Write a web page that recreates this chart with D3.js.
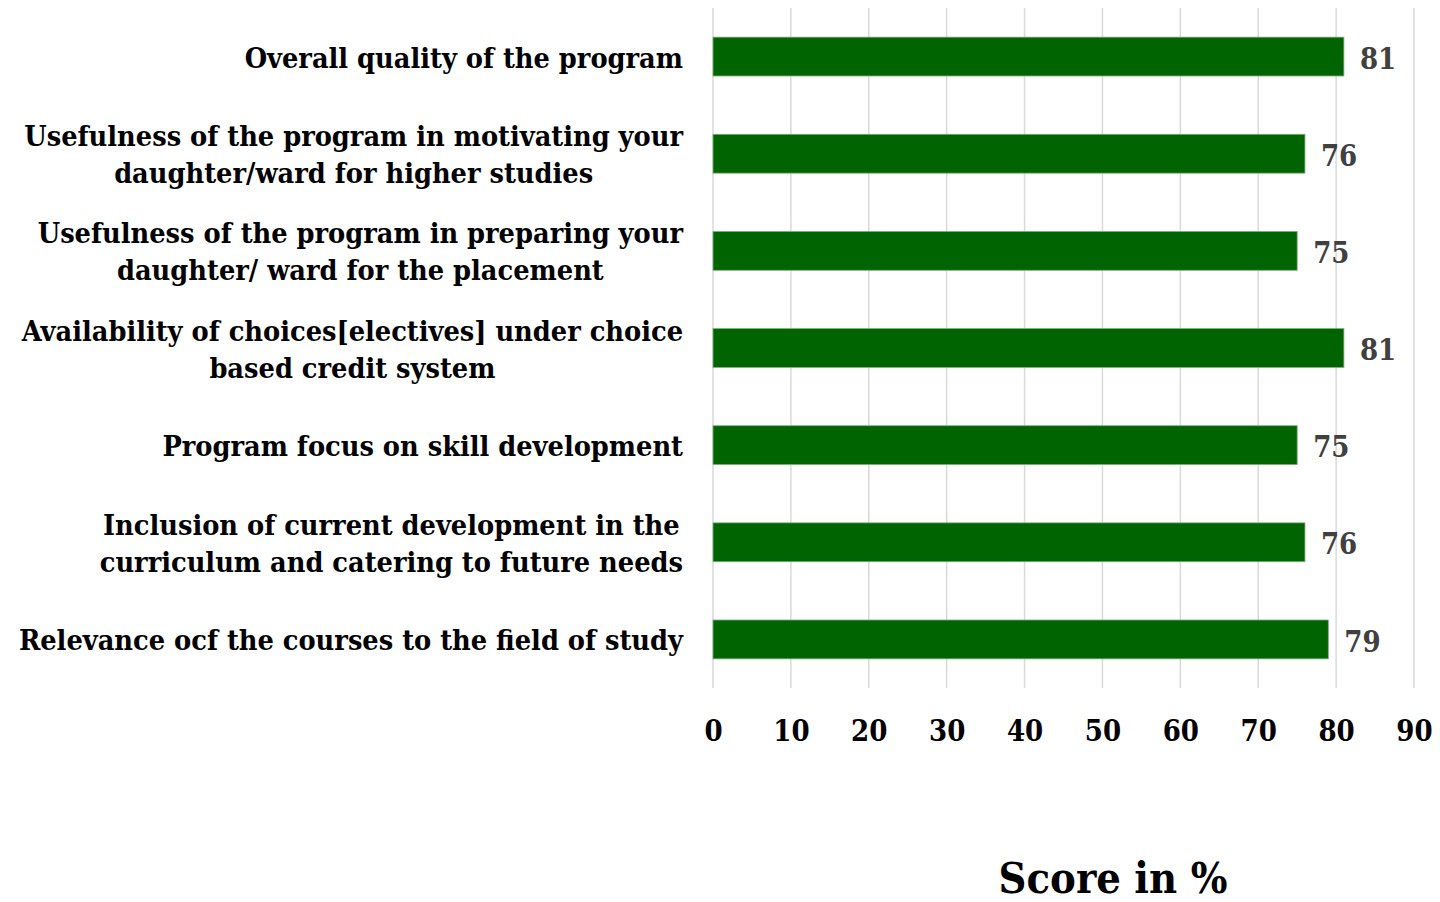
<!DOCTYPE html>
<html>
<head>
<meta charset="utf-8">
<title>Score in %</title>
<style>
  body { margin: 0; background: #fff; }
  text { font-family: 'DejaVu Serif Condensed', 'Liberation Serif', serif; font-weight: bold; }
</style>
<script src="https://d3js.org/d3.v7.min.js"></script>
</head>
<body>
<div id="container"></div>
<script>
// ******* Data *******
const categories = [
  ["Overall quality of the program"],
  ["Usefulness of the program in motivating your", "daughter/ward for higher studies"],
  ["Usefulness of the program in preparing your", "daughter/ ward for the placement"],
  ["Availability of choices[electives] under choice", "based credit system"],
  ["Program focus on skill development"],
  ["Inclusion of current development in the", "curriculum and catering to future needs"],
  ["Relevance ocf the courses to the field of study"]
];
const scores = [81, 76, 75, 81, 75, 76, 79];
const xTicks = [0, 10, 20, 30, 40, 50, 60, 70, 80, 90];
const axisTitle = "Score in %";

// ******* Layout *******
const width = 1440, height = 902;
const margin = { top: 8, left: 713, right: 26, bottom: 214 };

const svg = d3.select("#container").append("svg")
  .attr("width", width)
  .attr("height", height);

const x = d3.scaleLinear()
  .domain([0, 90])
  .range([margin.left, width - margin.right]);

const y = d3.scaleBand()
  .domain(d3.range(categories.length))
  .range([margin.top, height - margin.bottom])
  .paddingInner(0.6)
  .paddingOuter(0.3);

// gridlines
svg.append("g")
  .selectAll("line")
  .data(xTicks)
  .join("line")
  .attr("x1", d => x(d)).attr("x2", d => x(d))
  .attr("y1", margin.top).attr("y2", height - margin.bottom)
  .attr("stroke", "#d9d9d9")
  .attr("stroke-width", 1.5);

// bars
svg.append("g")
  .selectAll("rect")
  .data(scores)
  .join("rect")
  .attr("x", x(0))
  .attr("y", (d, i) => y(i))
  .attr("width", d => x(d) - x(0))
  .attr("height", y.bandwidth())
  .attr("fill", "#006400")
  .attr("stroke", "#7fae7f")
  .attr("stroke-width", 0.8);

// value labels
svg.append("g")
  .selectAll("text")
  .data(scores)
  .join("text")
  .attr("x", d => x(d) + 16)
  .attr("y", (d, i) => y(i) + y.bandwidth() / 2 + 2)
  .attr("dy", "0.35em")
  .attr("fill", "#404040")
  .attr("font-size", 29)
  .text(d => d);

// x axis tick labels
const xAxis = svg.append("g")
  .attr("transform", `translate(0, ${height - margin.bottom})`)
  .call(d3.axisBottom(x).tickValues(xTicks).tickSize(0).tickPadding(32));
xAxis.select(".domain").remove();
xAxis.selectAll("text")
  .attr("font-size", 29)
  .attr("fill", "#000")
  .style("font-family", null);

// category labels (block right-aligned, lines centred in block)
const labelRight = 683, lineH = 37;
const lab = svg.append("g");
categories.forEach((lines, i) => {
  const cy = y(i) + y.bandwidth() / 2 + 1;
  const g = lab.append("g");
  const texts = lines.map((s, j) => g.append("text")
    .attr("font-size", 28.6)
    .attr("fill", "#000")
    .attr("text-anchor", "middle")
    .attr("y", cy + (j - (lines.length - 1) / 2) * lineH)
    .attr("dy", "0.35em")
    .text(s));
  const w = d3.max(texts, t => t.node().getComputedTextLength());
  texts.forEach(t => t.attr("x", labelRight - w / 2));
});

// axis title
svg.append("text")
  .attr("x", 1113)
  .attr("y", 893)
  .attr("text-anchor", "middle")
  .attr("font-size", 43)
  .attr("fill", "#000")
  .text(axisTitle);
</script>
</body>
</html>
